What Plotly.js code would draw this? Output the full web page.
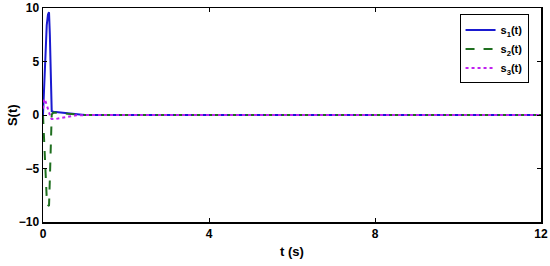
<!DOCTYPE html>
<html>
<head>
<meta charset="utf-8">
<script src="https://cdn.plot.ly/plotly-3.0.1.min.js"></script>
<style>html,body{margin:0;padding:0;background:#fff;}#chart{width:550px;height:266px;}</style>
</head>
<body>
<div id="chart"></div>
<script>
// time samples (s)
var t  = [0, 0.03, 0.06, 0.09, 0.12, 0.145, 0.165, 0.19, 0.21, 0.25, 0.3, 0.4, 0.5, 0.6, 0.7, 0.8, 1.0, 1.5, 2, 4, 6, 8, 10, 12];
// s1(t)
var s1 = [0, 3.0, 6.0, 8.4, 9.4, 9.6, 7.5, 3.0, 0.35, 0.3, 0.28, 0.24, 0.2, 0.15, 0.1, 0.05, 0.01, 0, 0, 0, 0, 0, 0, 0];
// s2(t)
var s2 = [0, -3.0, -6.0, -7.8, -8.4, -8.5, -6.0, -2.0, 0.05, 0.22, 0.22, 0.2, 0.16, 0.12, 0.08, 0.04, 0.01, 0, 0, 0, 0, 0, 0, 0];
// s3(t)
var s3 = [0.6, 1.5, 1.3, 0.9, 0.4, 0.05, -0.15, -0.3, -0.38, -0.4, -0.38, -0.3, -0.22, -0.15, -0.08, -0.03, -0.01, 0, 0, 0, 0, 0, 0, 0];
var names = ['s<sub>1</sub>(t)', 's<sub>2</sub>(t)', 's<sub>3</sub>(t)'];
var xTicks = [0, 4, 8, 12];
var yTicks = [-10, -5, 0, 5, 10];
var xTitle = 't (s)';
var yTitle = 'S(t)';

var fam = 'Liberation Sans, Arial, sans-serif';
var data = [
  {x: t, y: s1, name: names[0], mode: 'lines', line: {color: '#1a1ad0', width: 2, dash: 'solid'}},
  {x: t, y: s2, name: names[1], mode: 'lines', line: {color: '#1f6f1f', width: 2, dash: 'dash'}},
  {x: t, y: s3, name: names[2], mode: 'lines', line: {color: '#c020f0', width: 2, dash: 'dot'}}
];
var tf = {family: fam, size: 12, color: '#000', weight: 'bold'};
var titleFont = {family: fam, size: 13, color: '#000', weight: 'bold'};
var layout = {
  width: 550, height: 266,
  margin: {l: 43, r: 9, t: 8, b: 44},
  paper_bgcolor: '#fff', plot_bgcolor: '#fff',
  font: {family: fam, size: 11, color: '#000'},
  showlegend: true,
  legend: {x: 0.975, y: 0.97, xanchor: 'right', yanchor: 'top', bgcolor: '#fff',
    bordercolor: '#000', borderwidth: 1, font: {family: fam, size: 11, color: '#000', weight: 'bold'},
    itemwidth: 30, tracegroupgap: 0},
  xaxis: {range: [0, 12], tickvals: xTicks,
    ticks: 'inside', ticklen: 4, tickcolor: '#000', showline: true, linecolor: '#000', linewidth: 1.5,
    mirror: 'allticks', showgrid: false, zeroline: false, tickfont: tf},
  yaxis: {range: [-10, 10], tickvals: yTicks,
    ticks: 'inside', ticklen: 4, tickcolor: '#000', showline: true, linecolor: '#000', linewidth: 1.5,
    mirror: 'allticks', showgrid: false, zeroline: false, tickfont: tf},
  annotations: [
    {text: xTitle, xref: 'paper', yref: 'paper', x: 0.5, y: -0.14, xanchor: 'center', yanchor: 'middle',
     showarrow: false, font: titleFont},
    {text: yTitle, xref: 'paper', yref: 'paper', x: -0.062, y: 0.5, xanchor: 'center', yanchor: 'middle',
     textangle: -90, showarrow: false, font: titleFont}
  ]
};
Plotly.newPlot('chart', data, layout, {displayModeBar: false, staticPlot: true});
</script>
</body>
</html>
